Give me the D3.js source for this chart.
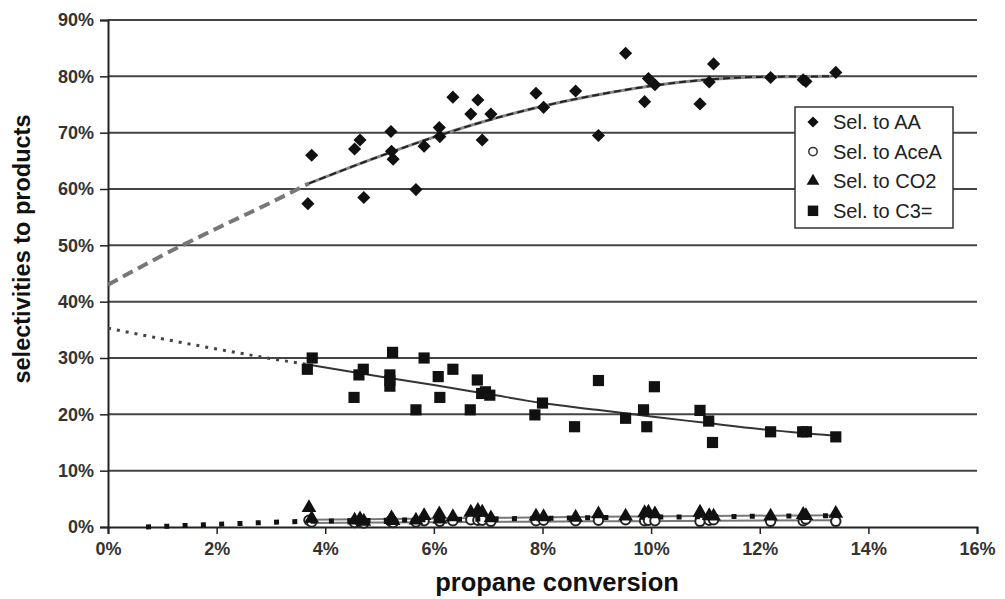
<!DOCTYPE html>
<html>
<head>
<meta charset="utf-8">
<script src="https://cdn.jsdelivr.net/npm/d3@7"></script>
<style>
    body { margin: 0; background: #fff; }
    svg { display: block; font-family: Arial, "Liberation Sans", sans-serif; }
</style>
</head>
<body>
<svg id="chart" width="1005" height="599"></svg>
<script>
// values, [conversion %, selectivity %]
const selAA = [
    [3.68, 57.4], [3.75, 66.0], [4.54, 67.1], [4.64, 68.7], [4.71, 58.5],
    [5.21, 70.2], [5.22, 66.7], [5.25, 65.3], [5.67, 59.9], [5.82, 67.6],
    [6.10, 70.9], [6.11, 69.3], [6.35, 76.3], [6.68, 73.3], [6.81, 75.8],
    [6.89, 68.7], [7.05, 73.3], [7.88, 77.0], [8.02, 74.5], [8.61, 77.4],
    [9.03, 69.5], [9.53, 84.1], [9.88, 75.5], [9.95, 79.6], [10.07, 78.5],
    [10.90, 75.1], [11.07, 79.0], [11.15, 82.2], [12.20, 79.8], [12.80, 79.4],
    [12.85, 79.1], [13.40, 80.7]
];
const selAceA = [
    [3.70, 1.2], [3.75, 0.9], [4.54, 0.8], [4.64, 1.0], [4.71, 0.7],
    [5.21, 1.0], [5.22, 1.2], [5.25, 0.8], [5.67, 0.9], [5.82, 1.1],
    [6.10, 1.2], [6.11, 1.0], [6.35, 1.1], [6.68, 1.3], [6.81, 1.2],
    [6.89, 1.2], [7.05, 1.0], [7.88, 1.1], [8.02, 1.2], [8.61, 1.1],
    [9.03, 1.2], [9.53, 1.3], [9.88, 1.1], [9.95, 1.2], [10.07, 1.1],
    [10.90, 1.0], [11.07, 1.2], [11.15, 1.3], [12.20, 1.0], [12.80, 1.1],
    [12.85, 1.4], [13.40, 1.0]
];
const selCO2 = [
    [3.70, 3.4], [3.75, 1.5], [4.54, 1.2], [4.64, 1.4], [4.71, 1.0],
    [5.21, 1.3], [5.22, 1.6], [5.25, 1.1], [5.67, 1.2], [5.82, 2.0],
    [6.10, 2.3], [6.11, 1.4], [6.35, 1.8], [6.68, 2.6], [6.81, 2.9],
    [6.89, 2.6], [7.05, 1.6], [7.88, 1.9], [8.02, 1.8], [8.61, 1.7],
    [9.03, 2.3], [9.53, 1.9], [9.88, 2.5], [9.95, 2.6], [10.07, 2.3],
    [10.90, 2.6], [11.07, 2.0], [11.15, 1.9], [12.20, 1.9], [12.80, 2.2],
    [12.85, 2.0], [13.40, 2.4]
];
const selC3 = [
    [3.76, 30.0], [3.67, 28.0], [4.53, 23.0], [4.62, 27.0], [4.70, 28.0],
    [5.24, 31.0], [5.19, 27.0], [5.19, 26.0], [5.19, 25.0], [5.67, 20.8],
    [5.82, 30.0], [6.08, 26.7], [6.11, 23.0], [6.35, 28.0], [6.67, 20.8],
    [6.80, 26.1], [6.88, 23.7], [6.95, 24.0], [7.03, 23.4], [7.86, 19.9],
    [8.00, 22.0], [8.59, 17.8], [9.03, 26.0], [9.53, 19.3], [9.86, 20.8],
    [9.92, 17.8], [10.06, 24.9], [10.90, 20.7], [11.06, 18.8], [11.13, 15.0],
    [12.20, 16.9], [12.79, 16.9], [12.86, 16.9], [13.40, 16.0]
];

// trend lines
const trendAAExtra = [[0, 43.0], [1, 48.2], [2, 53.0], [3, 57.6], [3.7, 61.0]];
const trendAA = [
    [3.7, 61.0], [5, 65.8], [6, 69.2], [7, 72.2], [8, 74.7], [9, 76.7],
    [10, 78.3], [11, 79.4], [12, 79.9], [13.3, 80.0]
];
const trendC3Extra = [[0, 35.3], [1, 33.4], [2, 31.6], [3, 29.9], [3.7, 28.8]];
const trendC3 = [
    [3.7, 28.8], [5, 26.7], [6, 25.2], [7, 23.6], [8, 22.0], [9, 20.8],
    [10, 19.6], [11, 18.5], [12, 17.4], [13.4, 16.2]
];
const trendDotted = [
    [0.7, 0.0], [1.5, 0.3], [2.5, 0.65], [3.4, 0.95], [4, 1.05], [6, 1.3],
    [8, 1.55], [10, 1.75], [12, 1.9], [13.4, 2.0]
];
const trendCO2 = [[3.7, 1.3], [6, 1.5], [9, 1.8], [13.4, 2.1]];
const trendAceA = [[3.7, 0.7], [6, 0.85], [9, 1.0], [13.4, 1.2]];

const xTicks = [0, 2, 4, 6, 8, 10, 12, 14, 16];
const yTicks = [0, 10, 20, 30, 40, 50, 60, 70, 80, 90];
const legendLabels = ["Sel. to AA", "Sel. to AceA", "Sel. to CO2", "Sel. to C3="];

const svg = d3.select("#chart");

const x = d3.scaleLinear().domain([0, 16]).range([108, 977]);
const y = d3.scaleLinear().domain([0, 90]).range([527, 20]);

// horizontal grid
svg.append("g")
    .selectAll("line")
    .data(yTicks.filter(d => d > 0))
    .join("line")
    .attr("x1", x(0))
    .attr("x2", x(16))
    .attr("y1", d => y(d))
    .attr("y2", d => y(d))
    .attr("stroke", "#444")
    .attr("stroke-width", 2);

// axes
const yAxis = svg.append("g")
    .attr("transform", `translate(${x(0)},0)`)
    .call(d3.axisLeft(y).tickValues(yTicks).tickFormat(d => d + "%").tickSize(8).tickPadding(6));
const xAxis = svg.append("g")
    .attr("transform", `translate(0,${y(0)})`)
    .call(d3.axisBottom(x).tickValues(xTicks).tickFormat(d => d + "%").tickSize(7).tickPadding(8));

[xAxis, yAxis].forEach(a => {
    a.select(".domain").attr("stroke", "#222").attr("stroke-width", 2);
    a.selectAll(".tick line").attr("stroke", "#222").attr("stroke-width", 1.5);
    a.selectAll(".tick text")
        .attr("fill", "#333")
        .attr("font-size", 18)
        .attr("font-weight", "bold")
        .attr("font-family", "Arial, 'Liberation Sans', sans-serif");
});

// axis titles
svg.append("text")
    .attr("transform", "translate(30,249) rotate(-90)")
    .attr("text-anchor", "middle")
    .attr("font-size", 23.5)
    .attr("font-weight", "bold")
    .attr("fill", "#111")
    .text("selectivities to products");

svg.append("text")
    .attr("x", 557)
    .attr("y", 591)
    .attr("text-anchor", "middle")
    .attr("font-size", 25.5)
    .attr("font-weight", "bold")
    .attr("fill", "#111")
    .text("propane conversion");

// trend lines
const line = d3.line().x(d => x(d[0])).y(d => y(d[1])).curve(d3.curveMonotoneX);

const drawLine = (data, stroke, width, dash) => svg.append("path")
    .datum(data)
    .attr("d", line)
    .attr("fill", "none")
    .attr("stroke", stroke)
    .attr("stroke-width", width)
    .attr("stroke-dasharray", dash);

drawLine(trendAAExtra, "#777", 4, "11,6");
drawLine(trendAA, "#888", 3, null);
drawLine(trendAA, "#222", 2, "7,4");
drawLine(trendC3Extra, "#444", 3, "3,6");
drawLine(trendC3, "#333", 2, null);
drawLine(trendCO2, "#777", 2, null);
drawLine(trendAceA, "#777", 2, null);

// markers
const symbolPath = (type, size) => d3.symbol().type(type).size(size)();

const drawPoints = (data, type, size, fill, stroke) => svg.append("g")
    .selectAll("path")
    .data(data)
    .join("path")
    .attr("transform", d => `translate(${x(d[0])},${y(d[1])})`)
    .attr("d", symbolPath(type, size))
    .attr("fill", fill)
    .attr("stroke", stroke)
    .attr("stroke-width", 2);

drawPoints(selAceA, d3.symbolCircle, 70, "#fff", "#222");
drawPoints(selCO2, d3.symbolTriangle, 95, "#111", "none");
drawPoints(selC3, d3.symbolSquare, 125, "#111", "none");
drawPoints(selAA, d3.symbolDiamond2, 110, "#111", "none");

drawLine(trendDotted, "#111", 5, "5,13.3");

// legend
const legend = svg.append("g").attr("transform", "translate(795,107)");
legend.append("rect")
    .attr("width", 158)
    .attr("height", 121)
    .attr("fill", "#fff")
    .attr("stroke", "#333")
    .attr("stroke-width", 1.5);

const legendSymbols = [
    {type: d3.symbolDiamond2, size: 80, fill: "#111", stroke: "none"},
    {type: d3.symbolCircle, size: 55, fill: "#fff", stroke: "#333"},
    {type: d3.symbolTriangle, size: 70, fill: "#111", stroke: "none"},
    {type: d3.symbolSquare, size: 110, fill: "#111", stroke: "none"}
];

const rows = legend.selectAll("g.item")
    .data(legendLabels)
    .join("g")
    .attr("class", "item")
    .attr("transform", (d, i) => `translate(0,${15 + i * 29.6})`);

rows.append("path")
    .attr("transform", "translate(18,0)")
    .attr("d", (d, i) => symbolPath(legendSymbols[i].type, legendSymbols[i].size))
    .attr("fill", (d, i) => legendSymbols[i].fill)
    .attr("stroke", (d, i) => legendSymbols[i].stroke)
    .attr("stroke-width", 1.5);

rows.append("text")
    .attr("x", 38)
    .attr("dy", "0.36em")
    .attr("font-size", 20)
    .attr("fill", "#222")
    .text(d => d);
</script>
</body>
</html>
